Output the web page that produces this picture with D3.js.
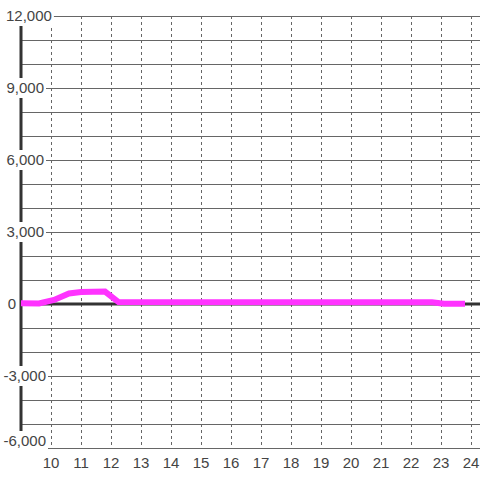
<!DOCTYPE html>
<html>
<head>
<meta charset="utf-8">
<script src="https://cdn.jsdelivr.net/npm/d3@7"></script>
<style>
  body { margin: 0; background: #fff; }
  svg { display: block; font-family: "Liberation Sans", Arial, sans-serif; }
</style>
</head>
<body>
<svg id="chart" width="480" height="480"></svg>
<script>
// data
const hours = [9, 9.6, 10.1, 10.6, 11, 11.8, 12.25, 22.7, 23.1, 23.8];
const values = [30, 20, 170, 440, 500, 520, 80, 70, 10, 10];
const xTicks = [10, 11, 12, 13, 14, 15, 16, 17, 18, 19, 20, 21, 22, 23, 24];
const yTicks = [-6000, -3000, 0, 3000, 6000, 9000, 12000];
const yGrid = d3.range(-6000, 12001, 1000);

const W = 480, H = 480;
const svg = d3.select("#chart");

const x = d3.scaleLinear().domain([9, 24]).range([21, 471]);
const y = d3.scaleLinear().domain([-6000, 12000]).range([448, 16]);

// horizontal grid
svg.append("g")
  .selectAll("line")
  .data(yGrid)
  .join("line")
  .attr("x1", x(9)).attr("x2", W)
  .attr("y1", d => y(d)).attr("y2", d => y(d))
  .attr("stroke", "#666").attr("stroke-width", 1)
  .attr("shape-rendering", "crispEdges");

// vertical dashed grid
svg.append("g")
  .selectAll("line")
  .data(xTicks)
  .join("line")
  .attr("x1", d => x(d)).attr("x2", d => x(d))
  .attr("y1", y(12000)).attr("y2", y(-6000))
  .attr("stroke", "#666").attr("stroke-width", 1)
  .attr("stroke-dasharray", "3,3")
  .attr("shape-rendering", "crispEdges");

// zero line
svg.append("line")
  .attr("x1", x(9)).attr("x2", W)
  .attr("y1", y(0)).attr("y2", y(0))
  .attr("stroke", "#333").attr("stroke-width", 3);

// y axis line
svg.append("line")
  .attr("x1", x(9)).attr("x2", x(9))
  .attr("y1", y(12000)).attr("y2", y(-6000))
  .attr("stroke", "#333").attr("stroke-width", 3);

// series
const line = d3.line().x(d => x(d[0])).y(d => y(d[1]));
svg.append("path")
  .datum(hours.map((h, i) => [h, values[i]]))
  .attr("d", line)
  .attr("fill", "none")
  .attr("stroke", "#ff33ff")
  .attr("stroke-width", 6)
  .attr("stroke-linejoin", "miter");

// y labels with white boxes, kept inside the plot vertically
const fmt = d3.format(",");
const yl = svg.append("g").selectAll("g")
  .data(yTicks)
  .join("g")
  .attr("transform", d => `translate(0,${Math.min(y(d), 441)})`);

yl.each(function (d) {
  const g = d3.select(this);
  let anchor = "end", tx = d < 0 ? 46 : 44;
  if (d === 12000) { anchor = "start"; tx = 6; }
  if (d === 0) { tx = 16; }
  const t = g.append("text")
    .attr("x", tx).attr("y", 0).attr("dy", "0.36em")
    .attr("text-anchor", anchor)
    .attr("font-size", 15)
    .attr("fill", "#444")
    .text(fmt(d).replace("−", "-"));
  const b = t.node().getBBox();
  g.insert("rect", "text")
    .attr("x", Math.max(0, b.x - 2)).attr("y", -10)
    .attr("width", b.width + 4).attr("height", 20)
    .attr("fill", "#fff");
});

// x labels
svg.append("g")
  .selectAll("text")
  .data(xTicks)
  .join("text")
  .attr("x", d => x(d)).attr("y", 468)
  .attr("text-anchor", "middle")
  .attr("font-size", 15)
  .attr("fill", "#444")
  .text(d => d);
</script>
</body>
</html>
